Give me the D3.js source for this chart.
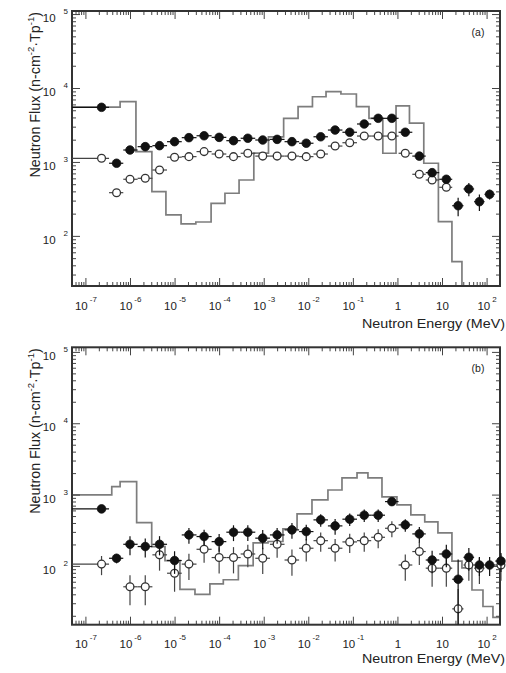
<!DOCTYPE html>
<html>
<head>
<meta charset="utf-8">
<script src="https://cdn.jsdelivr.net/npm/d3@7"></script>
<style>
body { margin: 0; background: #fff; }
svg text { font-family: "Liberation Sans", Arial, Helvetica, sans-serif; fill: #222; }
</style>
</head>
<body>
<script>
// bin centres of the measurements (MeV)
var energyA = [2.3e-7, 5e-7, 1e-6, 2.2e-6, 4.6e-6, 1e-5, 2.1e-5, 4.6e-5, 1e-4, 2.1e-4, 4.4e-4, 9.5e-4,
               2e-3, 4.3e-3, 9e-3, 1.9e-2, 4e-2, 8.5e-2, 0.18, 0.37, 0.75, 1.5, 3.1, 6, 12.5, 23, 40, 69, 117];
var energyB = energyA.concat([210]);

// panel (a): filled and open points, relative errors, simulated histogram
var filledA = [5480, 960, 1450, 1610, 1660, 1880, 2130, 2260, 2150, 1940, 2090, 1980, 2020, 1880, 1790,
               2190, 2700, 2520, 3260, 3890, 3890, 2520, 1200, 716, 583, 256, 431, 290, 365];
var filledErrA = [0.04, 0.05, 0.05, 0.05, 0.05, 0.05, 0.05, 0.05, 0.05, 0.05, 0.05, 0.05, 0.05, 0.05, 0.05,
                  0.05, 0.05, 0.05, 0.05, 0.05, 0.05, 0.05, 0.06, 0.08, 0.1, 0.28, 0.2, 0.25, 0.15];
var openA = [1120, 384, 583, 601, 778, 1160, 1180, 1380, 1280, 1180, 1310, 1200, 1200, 1200, 1180,
             1280, 1640, 1820, 2240, 2240, 2240, 1310, 681, 570, 454, null, null, null, null];
var openErrA = [0.04, 0.08, 0.05, 0.05, 0.05, 0.05, 0.05, 0.05, 0.05, 0.05, 0.05, 0.05, 0.05, 0.05, 0.05,
                0.05, 0.05, 0.05, 0.05, 0.05, 0.05, 0.06, 0.1, 0.1, 0.1, 0, 0, 0, 0];
var histEdgesA = [5e-8, 6e-7, 1.36e-6, 3.1e-6, 6.4e-6, 1.4e-5, 3e-5, 6.6e-5, 1.35e-4, 2.8e-4, 6e-4, 1.28e-3,
                  2.8e-3, 5.9e-3, 1.24e-2, 2.5e-2, 5.4e-2, 0.12, 0.23, 0.47, 0.93, 1.86, 3.9, 8.3, 16.7, 28];
var histA = [5500, 6530, 1380, 396, 192, 145, 154, 276, 377, 570, 1320, 2180, 3890, 5590, 7620, 8910, 8300,
             5590, 3890, 1310, 5720, 3340, 960, 156, 45];

// panel (b)
var filledB = [630, 128, 201, 187, 201, 119, 272, 258, 219, 297, 297, 245, 272, 320, 303, 442, 364, 452,
               514, 514, 797, 376, 281, 121, 147, 65, 132, 103, 103, 117];
var filledErrB = [0.05, 0.15, 0.3, 0.3, 0.3, 0.35, 0.25, 0.25, 0.28, 0.25, 0.25, 0.3, 0.25, 0.25, 0.25, 0.2,
                  0.25, 0.2, 0.2, 0.2, 0.1, 0.2, 0.25, 0.35, 0.35, 0.9, 0.35, 0.3, 0.3, 0.3];
var openB = [106, null, 51, 51, 143, 79, 106, 171, 131, 131, 147, 128, 201, 121, 177, 226, 177, 217,
             226, 252, 337, 103, 159, 93, 93, 25, 103, 93, null, 103];
var openErrB = [0.3, 0, 0.45, 0.45, 0.4, 0.45, 0.4, 0.35, 0.4, 0.4, 0.35, 0.4, 0.35, 0.4, 0.35, 0.3, 0.35,
                0.3, 0.3, 0.3, 0.25, 0.4, 0.35, 0.45, 0.45, 0.9, 0.4, 0.4, 0, 0.4];
var histEdgesB = [5e-8, 3.9e-7, 6e-7, 1.41e-6, 3.07e-6, 6.1e-6, 1.32e-5, 2.87e-5, 6.2e-5, 1.24e-4, 2.7e-4,
                  5.8e-4, 1.25e-3, 2.7e-3, 5.6e-3, 1.21e-2, 2.76e-2, 5.7e-2, 0.124, 0.218, 0.45, 0.975,
                  2.0, 4.1, 8.1, 16.7, 28, 47, 83, 139, 200];
var histB = [990, 1290, 1520, 405, 187, 119, 47, 40, 56, 64, 101, 210, 220, 330, 536, 841, 1160, 1710,
             2010, 1710, 927, 716, 519, 414, 290, 117, 94, 46, 27, 19];

// axis ticks
var xTicks = [1e-7, 1e-6, 1e-5, 1e-4, 1e-3, 1e-2, 1e-1, 1, 10, 100];
var xTickLabels = [["10", "-7"], ["10", "-6"], ["10", "-5"], ["10", "-4"], ["10", "-3"], ["10", "-2"],
                   ["10", "-1"], ["1", ""], ["10", ""], ["10", "2"]];
var yTicks = [1e2, 1e3, 1e4, 1e5];
var yTickLabels = [["10", "2"], ["10", "3"], ["10", "4"], ["10", "5"]];

var width = 506, height = 673;
var x0 = 72, x1 = 500;

var svg = d3.select("body").append("svg")
    .attr("width", width)
    .attr("height", height);

function isPow10(v) {
  var l = Math.log10(v);
  return Math.abs(l - Math.round(l)) < 1e-6;
}

function drawPanel(p) {
  var x = d3.scaleLog().domain([5e-8, 200]).range([x0, x1]);
  var y = d3.scaleLog().domain(p.yDomain).range([p.y1, p.y0]).clamp(true);
  var g = svg.append("g");

  // histogram as steps
  var pts = [];
  p.hist.forEach(function(v, i) {
    pts.push([x(p.edges[i]), y(v)], [x(p.edges[i + 1]), y(v)]);
  });
  if (p.dropEnd) pts.push([x(p.edges[p.edges.length - 1]), p.y1]);
  g.append("path")
      .attr("d", d3.line()(pts))
      .attr("fill", "none")
      .attr("stroke", "#7d7d7d")
      .attr("stroke-width", 1.7);

  // ticks: minor + major on all four sides, pointing inward
  var minorX = x.ticks(30).filter(function(d) { return !isPow10(d); });
  var minorY = y.ticks(30).filter(function(d) { return !isPow10(d); });

  function side(axisFn, scale, vals, size, tr) {
    var a = g.append("g")
        .attr("transform", tr)
        .attr("color", "#444")
        .call(axisFn(scale).tickValues(vals).tickSizeInner(-size).tickSizeOuter(0).tickFormat(""));
    a.select(".domain").remove();
    return a;
  }
  side(d3.axisBottom, x, minorX, 4, "translate(0," + p.y1 + ")");
  side(d3.axisTop, x, minorX, 4, "translate(0," + p.y0 + ")");
  side(d3.axisLeft, y, minorY, 4, "translate(" + x0 + ",0)");
  side(d3.axisRight, y, minorY, 4, "translate(" + x1 + ",0)");
  side(d3.axisTop, x, xTicks, 8, "translate(0," + p.y0 + ")");
  side(d3.axisRight, y, yTicks, 8, "translate(" + x1 + ",0)");

  var bx = g.append("g")
      .attr("transform", "translate(0," + p.y1 + ")")
      .attr("color", "#444")
      .call(d3.axisBottom(x).tickValues(xTicks).tickSizeInner(-8).tickSizeOuter(0));
  bx.select(".domain").remove();
  bx.selectAll(".tick text").each(function(d, i) {
    var t = d3.select(this).text(null).attr("y", p.tickLabelDy).attr("dy", null).attr("font-size", 11.5);
    t.append("tspan").text(xTickLabels[i][0]);
    if (xTickLabels[i][1]) {
      t.append("tspan").attr("dx", 2).attr("dy", -8).attr("font-size", 8).text(xTickLabels[i][1]);
    }
  });

  var ly = g.append("g")
      .attr("transform", "translate(" + x0 + ",0)")
      .attr("color", "#444")
      .call(d3.axisLeft(y).tickValues(yTicks).tickSizeInner(-8).tickSizeOuter(0));
  ly.select(".domain").remove();
  ly.selectAll(".tick text").each(function(d, i) {
    var t = d3.select(this).text(null).attr("x", -4).attr("dy", 7.5).attr("font-size", 11.5)
        .attr("text-anchor", "end");
    t.append("tspan").text(yTickLabels[i][0]);
    t.append("tspan").attr("dx", 8).attr("dy", -8).attr("font-size", 8).text(yTickLabels[i][1]);
  });

  // frame
  g.append("rect")
      .attr("x", x0).attr("y", p.y0)
      .attr("width", x1 - x0).attr("height", p.y1 - p.y0)
      .attr("fill", "none")
      .attr("stroke", "#333")
      .attr("stroke-width", 2);

  // data points with error bars
  function series(vals, errs, filled) {
    var E = p.energy;
    var rows = [];
    vals.forEach(function(v, i) {
      if (v == null) return;
      var lo = i === 0 ? 5e-8 : Math.sqrt(E[i] * E[i - 1]);
      var hi = i === E.length - 1 ? E[i] * Math.sqrt(E[i] / E[i - 1]) : Math.sqrt(E[i] * E[i + 1]);
      rows.push({e: E[i], v: v, err: errs[i], lo: lo, hi: hi});
    });
    var s = g.append("g");
    s.selectAll(".hbar").data(rows).enter().append("line")
        .attr("x1", function(d) { return x(d.lo); })
        .attr("x2", function(d) { return Math.min(x(d.hi), x1); })
        .attr("y1", function(d) { return y(d.v); })
        .attr("y2", function(d) { return y(d.v); })
        .attr("stroke", filled ? "#111" : "#444")
        .attr("stroke-width", 1.2);
    s.selectAll(".vbar").data(rows).enter().append("line")
        .attr("x1", function(d) { return x(d.e); })
        .attr("x2", function(d) { return x(d.e); })
        .attr("y1", function(d) { return y(d.v * (1 + d.err)); })
        .attr("y2", function(d) { return y(Math.max(d.v * (1 - d.err), 1)); })
        .attr("stroke", filled ? "#111" : "#444")
        .attr("stroke-width", 1.2);
    s.selectAll("circle").data(rows).enter().append("circle")
        .attr("cx", function(d) { return x(d.e); })
        .attr("cy", function(d) { return y(d.v); })
        .attr("r", filled ? 4.3 : 3.9)
        .attr("fill", filled ? "#111" : "#fff")
        .attr("stroke", filled ? "#111" : "#333")
        .attr("stroke-width", filled ? 0.8 : 1.3);
  }
  series(p.open, p.openErr, false);
  series(p.filled, p.filledErr, true);

  // titles
  var yl = g.append("text")
      .attr("transform", "translate(40," + (p.y0 + 1) + ") rotate(-90)")
      .attr("text-anchor", "end")
      .attr("font-size", 14.3);
  yl.append("tspan").text("Neutron Flux (n-cm");
  yl.append("tspan").attr("dy", -6).attr("font-size", 9.5).text("-2");
  yl.append("tspan").attr("dy", 6).text("·Tp");
  yl.append("tspan").attr("dy", -6).attr("font-size", 9.5).text("-1");
  yl.append("tspan").attr("dy", 6).text(")");

  g.append("text")
      .attr("x", 505).attr("y", p.xLabelY)
      .attr("text-anchor", "end")
      .attr("font-size", 13.5)
      .attr("textLength", 143)
      .attr("lengthAdjust", "spacingAndGlyphs")
      .text("Neutron Energy (MeV)");

  g.append("text")
      .attr("x", 478).attr("y", p.y0 + 25)
      .attr("text-anchor", "middle")
      .attr("font-size", 10.5)
      .text(p.tag);
}

drawPanel({
  y0: 11, y1: 286, yDomain: [21, 1.1e5],
  energy: energyA, filled: filledA, filledErr: filledErrA, open: openA, openErr: openErrA,
  edges: histEdgesA, hist: histA, dropEnd: true, tickLabelDy: 24, xLabelY: 327.5, tag: "(a)"
});
drawPanel({
  y0: 347.3, y1: 624.7, yDomain: [15, 1.16e5],
  energy: energyB, filled: filledB, filledErr: filledErrB, open: openB, openErr: openErrB,
  edges: histEdgesB, hist: histB, dropEnd: false, tickLabelDy: 23.3, xLabelY: 663, tag: "(b)"
});
</script>
</body>
</html>
